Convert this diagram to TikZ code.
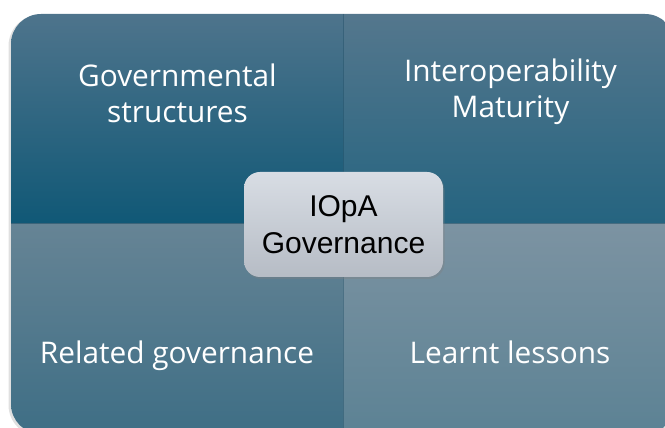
\documentclass[tikz,border=0pt]{standalone}
\usepackage{fontspec}
\setmainfont{Open Sans}
\newfontfamily\hubfont{Liberation Sans}
\usetikzlibrary{shadows}
\definecolor{tlTop}{RGB}{78,116,140}
\definecolor{tlMid}{RGB}{30,98,128}
\definecolor{tlBot}{RGB}{16,88,118}
\definecolor{trTop}{RGB}{84,119,141}
\definecolor{trMid}{RGB}{48,106,133}
\definecolor{trBot}{RGB}{37,100,128}
\definecolor{blTop}{RGB}{102,132,149}
\definecolor{blMid}{RGB}{75,119,140}
\definecolor{blBot}{RGB}{62,110,133}
\definecolor{brTop}{RGB}{124,147,162}
\definecolor{brMid}{RGB}{101,136,153}
\definecolor{brBot}{RGB}{92,130,148}
\definecolor{hubTop}{RGB}{216,221,228}
\definecolor{hubBot}{RGB}{182,188,197}
\definecolor{seam}{RGB}{20,70,95}
\begin{document}
\begin{tikzpicture}[x=1pt,y=1pt,
    quad/.style={text=white, align=center, font=\fontsize{29.8}{36}\selectfont},
    hub/.style={align=center, rounded corners=16, minimum width=199, minimum height=105,
      top color=hubTop, bottom color=hubBot, text=black,
      font=\hubfont\fontsize{30}{37}\selectfont,
      drop shadow={opacity=0.35, shadow xshift=1.5, shadow yshift=-2}}]
    \useasboundingbox (0,0) rectangle (665,428);
    % frame shadow
    \fill[black!12, rounded corners=31] (8.5,-8) rectangle (676,413);
    \begin{scope}
        \clip[rounded corners=30] (11,-6) rectangle (675,414);
        \shade[top color=tlTop, middle color=tlMid, bottom color=tlBot] (11,204) rectangle (343,414);
        \shade[top color=trTop, middle color=trMid, bottom color=trBot] (343,204) rectangle (675,414);
        \shade[top color=blTop, middle color=blMid, bottom color=blBot] (11,-6) rectangle (343,204);
        \shade[top color=brTop, middle color=brMid, bottom color=brBot] (343,-6) rectangle (675,204);
        \draw[seam, opacity=0.5, line width=1] (11,204) -- (675,204);
        \draw[seam, opacity=0.4, line width=1] (343,-6) -- (343,414);
    \end{scope}
    \node[quad] (govstruct) at (177.5,335) {Governmental\\structures};
    \node[quad] (maturity) at (510.5,336) {Interoperability\\Maturity};
    \node[quad, anchor=base] (relgov) at (177,64) {Related governance};
    \node[quad, anchor=base] (lessons) at (510,64) {Learnt lessons};
    \node[hub] (iopa) at (343.5,203.5) {IOpA\\Governance};
\end{tikzpicture}
\end{document}
